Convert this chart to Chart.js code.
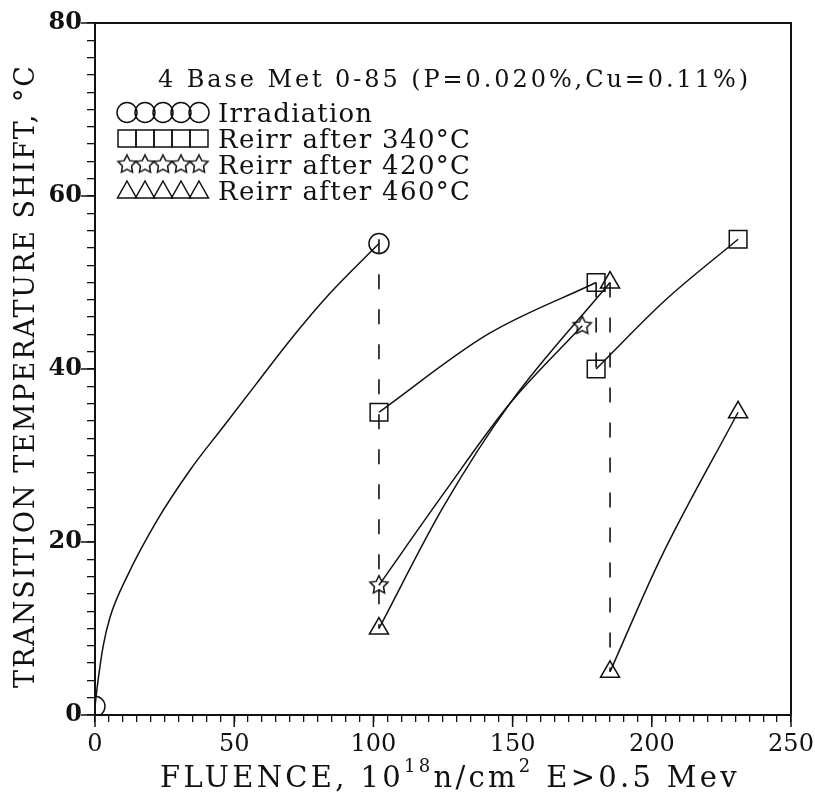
<!DOCTYPE html>
<html>
<head>
<meta charset="utf-8">
<script src="https://cdn.jsdelivr.net/npm/chart.js@4/dist/chart.umd.min.js"></script>
<style>
  html, body { margin: 0; padding: 0; background: #fff; }
  #wrap { width: 815px; height: 796px; }
</style>
</head>
<body>
<div id="wrap"><canvas id="shiftChart" width="815" height="796"></canvas></div>
<script>
// tick labels
const xTickLabels = [0, 50, 100, 150, 200, 250];
const yTickLabels = [0, 20, 40, 60, 80];

// Irradiation: measured points and the fitted trend
const irrFluence = [0, 102];
const irrShift = [1, 54.5];
const irrFitFluence = [0, 0.7, 2.9, 5.4, 11.5, 22.3, 34.1, 46, 58.2, 70, 84, 102];
const irrFitShift = [1, 3, 7.9, 11.3, 16.0, 22.5, 28.3, 33.3, 38.4, 43.3, 48.6, 54.5];

// Reirr after 340°C
const r340Fluence = [102, 180, 180, 231];
const r340Shift = [35, 50, 40, 55];
const r340FitAFluence = [102, 141, 180];
const r340FitAShift = [35, 44, 50];
const r340FitBFluence = [180, 205, 231];
const r340FitBShift = [40, 48, 55];

// Reirr after 420°C
const r420Fluence = [102, 175];
const r420Shift = [15, 45];
const r420FitFluence = [102, 125, 149, 175];
const r420FitShift = [15, 25.5, 36, 45];

// Reirr after 460°C
const r460Fluence = [102, 185, 185, 231];
const r460Shift = [10, 50, 5, 35];
const r460FitAFluence = [102, 125, 149, 185];
const r460FitAShift = [10, 24, 36, 50];
const r460FitBFluence = [185, 203, 231];
const r460FitBShift = [5, 18, 35];

// annealing drops (dashed)
const dropAFluence = [102, 102];
const dropAShift = [55, 10];
const dropBFluence = [180, 180];
const dropBShift = [50, 40];
const dropCFluence = [185, 185];
const dropCShift = [50, 5];

const legendTitle = '4 Base Met 0-85 (P=0.020%,Cu=0.11%)';
const legendLabels = ['Irradiation', 'Reirr after 340°C', 'Reirr after 420°C', 'Reirr after 460°C'];
const yTitle = 'TRANSITION TEMPERATURE SHIFT, °C';

const INK = '#111';
const pts = (xs, ys) => xs.map((x, i) => ({ x: x, y: ys[i] }));

function starImage(r, lw) {
  const c = document.createElement('canvas');
  const s = Math.ceil(r * 2 + lw * 2 + 2);
  c.width = c.height = s;
  const g = c.getContext('2d');
  g.beginPath();
  for (let i = 0; i < 10; i++) {
    const a = -Math.PI / 2 + i * Math.PI / 5;
    const rr = i % 2 ? r * 0.5 : r;
    g.lineTo(s / 2 + rr * Math.cos(a), s / 2 + rr * Math.sin(a));
  }
  g.closePath();
  g.lineWidth = lw;
  g.strokeStyle = INK;
  g.stroke();
  return c;
}
const star = starImage(9.5, 1.5);

function curve(xs, ys) {
  return {
    data: pts(xs, ys), showLine: true, pointRadius: 0,
    borderColor: INK, borderWidth: 1.5, cubicInterpolationMode: 'monotone', fill: false
  };
}
function dashed(xs, ys) {
  return {
    data: pts(xs, ys), showLine: true, pointRadius: 0,
    borderColor: INK, borderWidth: 1.6, borderDash: [15, 20]
  };
}
function markers(xs, ys, style, r) {
  return {
    data: pts(xs, ys), showLine: false, pointStyle: style, pointRadius: r,
    pointBorderColor: INK, pointBackgroundColor: 'rgba(0,0,0,0)', pointBorderWidth: 1.5
  };
}

// letter-spaced text stretched to a given width
function spreadText(ctx, text, x, y, width) {
  ctx.letterSpacing = '0px';
  const w = ctx.measureText(text).width;
  const sp = (width - w) / Math.max(text.length - 1, 1);
  ctx.letterSpacing = sp + 'px';
  ctx.fillText(text, x, y);
  ctx.letterSpacing = '0px';
}

function legendMarker(ctx, kind, x, y) {
  ctx.beginPath();
  if (kind === 0) {
    ctx.arc(x, y, 10, 0, Math.PI * 2);
  } else if (kind === 1) {
    ctx.rect(x - 9, y - 8.5, 18, 17);
  } else if (kind === 3) {
    ctx.moveTo(x, y - 9);
    ctx.lineTo(x + 9.5, y + 8);
    ctx.lineTo(x - 9.5, y + 8);
    ctx.closePath();
  } else {
    ctx.drawImage(star, x - star.width / 2, y - star.height / 2);
    return;
  }
  ctx.stroke();
}

const decorations = {
  id: 'decorations',
  beforeDraw(chart) {
    const ctx = chart.ctx;
    ctx.save();
    ctx.fillStyle = '#fff';
    ctx.fillRect(0, 0, chart.width, chart.height);
    ctx.restore();
  },
  afterDraw(chart) {
    const ctx = chart.ctx;
    const a = chart.chartArea;
    const xs = chart.scales.x, ys = chart.scales.y;
    ctx.save();
    ctx.strokeStyle = INK;
    ctx.fillStyle = INK;

    // frame on top and right
    ctx.lineWidth = 2;
    ctx.beginPath();
    ctx.moveTo(a.left, a.top);
    ctx.lineTo(a.right, a.top);
    ctx.lineTo(a.right, a.bottom);
    ctx.stroke();

    // longer major ticks
    ctx.lineWidth = 1.5;
    ctx.beginPath();
    xTickLabels.forEach(v => {
      const px = xs.getPixelForValue(v);
      ctx.moveTo(px, a.bottom);
      ctx.lineTo(px, a.bottom + 12);
    });
    yTickLabels.forEach(v => {
      const py = ys.getPixelForValue(v);
      ctx.moveTo(a.left - 14, py);
      ctx.lineTo(a.left, py);
    });
    ctx.stroke();

    // y axis title
    ctx.font = '27px "DejaVu Serif"';
    ctx.textBaseline = 'alphabetic';
    ctx.textAlign = 'left';
    ctx.save();
    ctx.translate(34, 688);
    ctx.rotate(-Math.PI / 2);
    spreadText(ctx, yTitle, 0, 0, 622);
    ctx.restore();

    // x axis title with superscripts
    const parts = [
      ['FLUENCE, 10', 29, 0], ['18', 18, -15], ['n/cm', 29, 0], ['2', 18, -15], [' E>0.5 Mev', 29, 0]
    ];
    let natural = 0, chars = 0;
    parts.forEach(p => {
      ctx.font = p[1] + 'px "DejaVu Serif"';
      natural += ctx.measureText(p[0]).width;
      chars += p[0].length;
    });
    const sp = (580 - natural) / chars;
    let cx = 160;
    parts.forEach(p => {
      ctx.font = p[1] + 'px "DejaVu Serif"';
      const w = ctx.measureText(p[0]).width;
      ctx.letterSpacing = sp + 'px';
      ctx.fillText(p[0], cx, 787 + p[2]);
      ctx.letterSpacing = '0px';
      cx += w + sp * p[0].length;
    });

    // legend
    ctx.font = '24px "DejaVu Serif"';
    spreadText(ctx, legendTitle, 158, 87, 590);
    ctx.lineWidth = 1.5;
    const rowY = [112.5, 138.5, 164.5, 190];
    const textW = [154, 252, 252, 252];
    ctx.font = '26px "DejaVu Serif"';
    legendLabels.forEach((label, k) => {
      for (let i = 0; i < 5; i++) legendMarker(ctx, k, 127 + i * 18, rowY[k]);
      spreadText(ctx, label, 218, rowY[k] + 9.5, textW[k]);
    });
    ctx.restore();
  }
};

new Chart(document.getElementById('shiftChart'), {
  type: 'scatter',
  data: {
    datasets: [
      curve(irrFitFluence, irrFitShift),
      curve(r340FitAFluence, r340FitAShift),
      curve(r340FitBFluence, r340FitBShift),
      curve(r420FitFluence, r420FitShift),
      curve(r460FitAFluence, r460FitAShift),
      curve(r460FitBFluence, r460FitBShift),
      dashed(dropAFluence, dropAShift),
      dashed(dropBFluence, dropBShift),
      dashed(dropCFluence, dropCShift),
      markers(irrFluence, irrShift, 'circle', 10),
      markers(r340Fluence, r340Shift, 'rect', 12.5),
      markers(r420Fluence, r420Shift, star, 10),
      markers(r460Fluence, r460Shift, 'triangle', 11)
    ]
  },
  options: {
    responsive: false,
    animation: false,
    layout: { padding: { top: 23, right: 24, left: 0, bottom: 0 } },
    plugins: { legend: { display: false }, tooltip: { enabled: false } },
    scales: {
      x: {
        type: 'linear', min: 0, max: 250,
        afterFit: s => { s.height = 81; s.paddingLeft = 0; s.paddingRight = 0; },
        border: { color: INK, width: 2 },
        grid: { drawOnChartArea: false, color: INK, lineWidth: 1.3, tickLength: 7 },
        ticks: {
          stepSize: 5, autoSkip: false, maxRotation: 0, padding: 8, color: INK,
          font: { family: 'DejaVu Serif', size: 24 },
          callback: v => xTickLabels.includes(v) ? String(v) : ''
        }
      },
      y: {
        type: 'linear', min: 0, max: 80,
        afterFit: s => { s.width = 95; s.paddingTop = 0; s.paddingBottom = 0; },
        border: { color: INK, width: 2 },
        grid: { drawOnChartArea: false, color: INK, lineWidth: 1.3, tickLength: 8 },
        ticks: {
          stepSize: 2, autoSkip: false, padding: 5, color: INK,
          font: { family: 'DejaVu Serif', size: 24, weight: 'bold' },
          callback: v => yTickLabels.includes(v) ? String(v) : ''
        }
      }
    }
  },
  plugins: [decorations]
});
</script>
</body>
</html>
